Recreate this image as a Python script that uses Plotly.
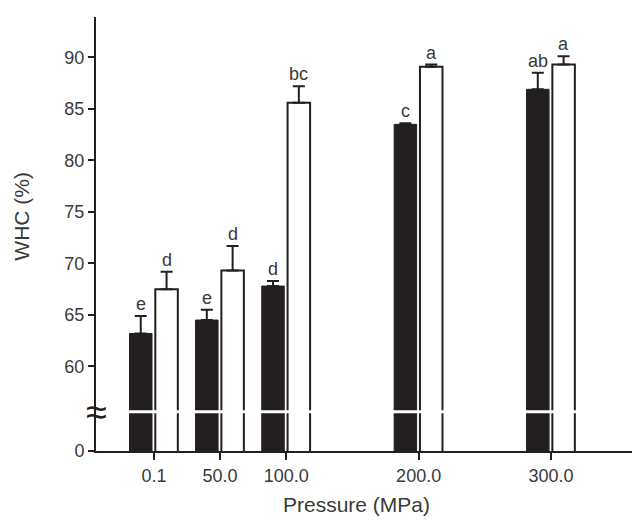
import plotly.graph_objects as go

# ---- data ----
pressures = [0.1, 50.0, 100.0, 200.0, 300.0]
tick_labels = ["0.1", "50.0", "100.0", "200.0", "300.0"]
black_vals = [63.2, 64.5, 67.8, 83.5, 86.9]
black_err = [1.7, 1.0, 0.5, 0.1, 1.6]
white_vals = [67.5, 69.3, 85.6, 89.1, 89.3]
white_err = [1.7, 2.4, 1.6, 0.2, 0.8]
black_letters = ["e", "e", "d", "c", "ab"]
white_letters = ["d", "d", "bc", "a", "a"]
y_ticks = [60, 65, 70, 75, 80, 85, 90]

# ---- broken-axis settings ----
AXIS_ZERO = 51.79      # where "0" sits on the compressed axis
BREAK_AT = 55.6        # position of the axis break
Y_TOP = 93.92
X_RANGE = [-43.7, 367.2]
BAR_W = 17
OFF_BLACK = -18.5
OFF_WHITE = 1.0

FONT = "Liberation Sans"
TXT = "#3a3a3a"
INK = "#231f20"

fig = go.Figure()
fig.add_trace(go.Bar(
    x=pressures, y=black_vals, width=BAR_W, offset=OFF_BLACK,
    marker=dict(color=INK, line=dict(color=INK, width=1)),
    error_y=dict(type="data", symmetric=False, array=black_err,
                 arrayminus=[0] * len(black_err),
                 color=INK, thickness=2, width=6),
    name="black", showlegend=False))
fig.add_trace(go.Bar(
    x=pressures, y=white_vals, width=BAR_W, offset=OFF_WHITE,
    marker=dict(color="white", line=dict(color=INK, width=2)),
    error_y=dict(type="data", symmetric=False, array=white_err,
                 arrayminus=[0] * len(white_err),
                 color=INK, thickness=2, width=6),
    name="white", showlegend=False))

annotations = []
for p, v, e, t in zip(pressures, black_vals, black_err, black_letters):
    annotations.append(dict(x=p + OFF_BLACK + BAR_W / 2, y=v + e, text=t,
                            showarrow=False, yanchor="bottom",
                            font=dict(family=FONT, size=18, color=TXT)))
for p, v, e, t in zip(pressures, white_vals, white_err, white_letters):
    annotations.append(dict(x=p + OFF_WHITE + BAR_W / 2, y=v + e, text=t,
                            showarrow=False, yanchor="bottom",
                            font=dict(family=FONT, size=18, color=TXT)))
# axis break symbol
annotations.append(dict(x=0, xref="paper", y=BREAK_AT, text="≈", showarrow=False,
                        xanchor="center", yanchor="middle",
                        font=dict(family=FONT, size=38, color=INK)))
# axis titles
annotations.append(dict(x=0.478, xref="paper", y=-0.124, yref="paper",
                        text="Pressure (MPa)", showarrow=False, yanchor="middle",
                        font=dict(family=FONT, size=21, color=TXT)))
annotations.append(dict(x=-0.136, xref="paper", y=0.54, yref="paper",
                        text="WHC (%)", showarrow=False, textangle=-90,
                        xanchor="center", yanchor="middle",
                        font=dict(family=FONT, size=21, color=TXT)))

shapes = [dict(type="line", xref="x", yref="y",
               x0=pressures[0] + OFF_BLACK - 5, x1=pressures[-1] + OFF_WHITE + BAR_W + 5,
               y0=BREAK_AT, y1=BREAK_AT, line=dict(color="white", width=3),
               layer="above")]

# page body has an 8px default margin, so the figure is 8px smaller
fig.update_layout(
    width=632, height=513,
    margin=dict(l=88, r=0, t=9, b=70, autoexpand=False),
    paper_bgcolor="white", plot_bgcolor="white",
    barmode="overlay",
    annotations=annotations, shapes=shapes,
    xaxis=dict(range=X_RANGE, tickvals=pressures, ticktext=tick_labels,
               showline=True, linecolor=INK, linewidth=2,
               ticks="outside", ticklen=7, tickwidth=2, tickcolor=INK,
               showgrid=False, zeroline=False, automargin=False,
               tickfont=dict(family=FONT, size=18, color=TXT)),
    yaxis=dict(range=[AXIS_ZERO, Y_TOP],
               tickvals=[AXIS_ZERO] + y_ticks,
               ticktext=["0"] + [str(v) for v in y_ticks],
               showline=True, linecolor=INK, linewidth=2,
               ticks="outside", ticklen=6, tickwidth=2, tickcolor=INK,
               showgrid=False, zeroline=False, automargin=False,
               tickfont=dict(family=FONT, size=18, color=TXT)),
)

fig.write_html("out.html")
